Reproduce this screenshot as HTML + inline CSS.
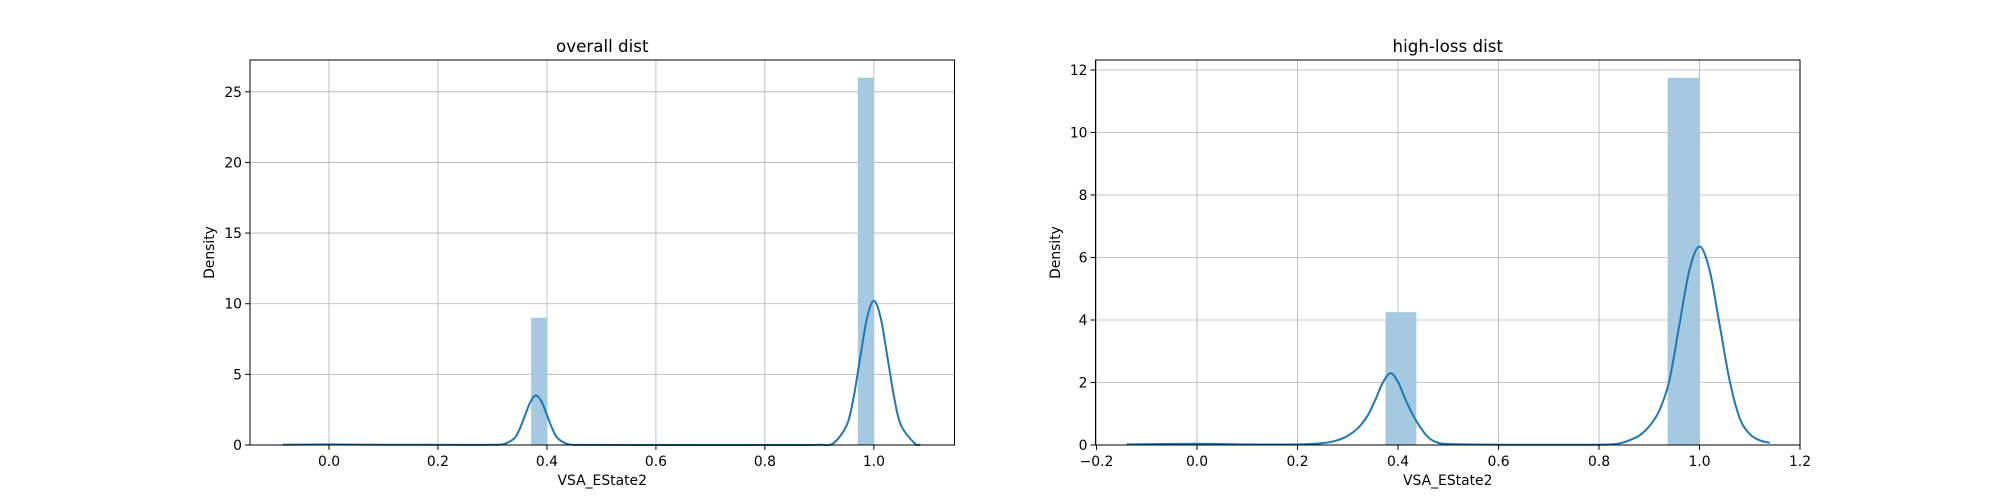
<!DOCTYPE html>
<html><head><meta charset="utf-8"><style>
html,body{margin:0;padding:0;background:#fff;}
svg{display:block;font-family:"DejaVu Sans","Liberation Sans",sans-serif;}
</style></head><body>
<svg id="fig" width="2000" height="500" viewBox="0 0 2000 500" xmlns="http://www.w3.org/2000/svg"></svg>
<script>
// ---- left panel data ----
const leftXTicks = [0.0, 0.2, 0.4, 0.6, 0.8, 1.0];
const leftXTickLabels = ["0.0","0.2","0.4","0.6","0.8","1.0"];
const leftYTicks = [0, 5, 10, 15, 20, 25];
const leftBinStart = [0.371, 0.9705];
const leftBinEnd = [0.4005, 1.0];
const leftBinHeight = [9.0, 26.0];
const leftKdeX = [-0.085,0.0,0.1,0.25,0.3,0.32,0.34,0.35,0.36,0.37,0.38,0.39,0.40,0.41,0.42,0.44,0.47,0.6,0.85,0.9,0.925,0.95,0.9625,0.975,0.9875,1.0,1.0125,1.025,1.0375,1.05,1.075,1.085];
const leftKdeY = [0.02,0.04,0.02,0.01,0.02,0.06,0.47,1.14,2.12,3.08,3.5,3.08,2.12,1.14,0.47,0.05,0.01,0.0,0.0,0.02,0.11,1.38,3.3,6.2,9.0,10.2,9.0,6.2,3.3,1.38,0.11,0.03];
// ---- right panel data ----
const rightXTicks = [-0.2,0.0,0.2,0.4,0.6,0.8,1.0,1.2];
const rightXTickLabels = ["\u22120.2","0.0","0.2","0.4","0.6","0.8","1.0","1.2"];
const rightYTicks = [0,2,4,6,8,10,12];
const rightBinStart = [0.375, 0.9365];
const rightBinEnd = [0.4365, 1.0];
const rightBinHeight = [4.25, 11.75];
const rightKdeX = [-0.14,0.0,0.1,0.2,0.25,0.275,0.295,0.31,0.325,0.34,0.355,0.37,0.385,0.40,0.415,0.43,0.445,0.46,0.475,0.5,0.6,0.8,0.84,0.86,0.88,0.9,0.92,0.94,0.96,0.98,1.0,1.02,1.04,1.06,1.08,1.1,1.12,1.14];
const rightKdeY = [0.02,0.04,0.02,0.02,0.06,0.13,0.25,0.4,0.62,0.95,1.45,2.0,2.3,2.02,1.45,0.95,0.55,0.25,0.1,0.03,0.01,0.01,0.05,0.15,0.3,0.6,1.1,2.06,3.85,5.6,6.35,5.6,3.85,2.06,0.86,0.35,0.15,0.07];

const NS="http://www.w3.org/2000/svg";
const fig=document.getElementById('fig');
function mk(tag,attrs,parent){const e=document.createElementNS(NS,tag);for(const k in attrs)e.setAttribute(k,attrs[k]);(parent||fig).appendChild(e);return e;}
function smoothPath(pts){
  let d='M'+pts[0][0].toFixed(2)+','+pts[0][1].toFixed(2);
  for(let i=0;i<pts.length-1;i++){
    const p0=pts[Math.max(0,i-1)],p1=pts[i],p2=pts[i+1],p3=pts[Math.min(pts.length-1,i+2)];
    const c1x=p1[0]+(p2[0]-p0[0])/6,c1y=p1[1]+(p2[1]-p0[1])/6;
    const c2x=p2[0]-(p3[0]-p1[0])/6,c2y=p2[1]-(p3[1]-p1[1])/6;
    d+=` C${c1x.toFixed(2)},${c1y.toFixed(2)} ${c2x.toFixed(2)},${c2y.toFixed(2)} ${p2[0].toFixed(2)},${p2[1].toFixed(2)}`;
  }
  return d;
}

function panel(cfg){
  const g=mk('g',{});
  
  
  const {L,R,T,B,xmin,xmax,ymin,ymax}=cfg;
  const sx=v=>L+(v-xmin)/(xmax-xmin)*(R-L);
  const sy=v=>B-(v-ymin)/(ymax-ymin)*(B-T);
  cfg.xTicks.forEach(v=>{const l=mk('line',{x1:sx(v),x2:sx(v),y1:T,y2:B,stroke:'#b0b0b0','stroke-width':0.8},g);
    
    });
  cfg.yTicks.forEach(v=>{const l=mk('line',{x1:L,x2:R,y1:sy(v),y2:sy(v),stroke:'#b0b0b0','stroke-width':0.8},g);
    
    });
  cfg.binStart.forEach((s,i)=>{const r=mk('rect',{x:sx(s),y:sy(cfg.binHeight[i]),width:sx(cfg.binEnd[i])-sx(s),height:sy(0)-sy(cfg.binHeight[i]),fill:'#a5c9e1'},g);
    
    });
  const pts=cfg.kdeX.map((x,i)=>[sx(x),sy(cfg.kdeY[i])]);
  const p=mk('path',{d:smoothPath(pts),fill:'none',stroke:'#1f77b4','stroke-width':2,'stroke-linejoin':'round'},g);
  
  
  const f=mk('rect',{x:L,y:T,width:R-L,height:B-T,fill:'none',stroke:'#000','stroke-width':1},g);
  
  
  cfg.xTicks.forEach((v,i)=>{mk('line',{x1:sx(v),x2:sx(v),y1:B,y2:B+4.9,stroke:'#000','stroke-width':1},g);
    const t=mk('text',{x:sx(v),y:B+21,'font-size':13.9,'text-anchor':'middle',fill:'#000'},g);t.textContent=cfg.xLabels[i];
    
    });
  cfg.yTicks.forEach(v=>{mk('line',{x1:L-4.9,x2:L,y1:sy(v),y2:sy(v),stroke:'#000','stroke-width':1},g);
    const t=mk('text',{x:L-8,y:sy(v)+5,'font-size':13.9,'text-anchor':'end',fill:'#000'},g);t.textContent=String(v);
    
    });
  const xl=mk('text',{x:(L+R)/2,y:B+40,'font-size':13.9,'text-anchor':'middle'},g);xl.textContent='VSA_EState2';
  
  
  const yl=mk('text',{x:0,y:0,'font-size':13.9,'text-anchor':'middle',transform:`translate(${cfg.yLabelX},${(T+B)/2}) rotate(-90)`},g);yl.textContent='Density';
  
  
  const tt=mk('text',{x:(L+R)/2,y:T-8,'font-size':16.7,'text-anchor':'middle'},g);tt.textContent=cfg.title;
  
  
}
panel({name:'overall-dist-panel',title:'overall dist',L:250,R:954.5,T:60,B:445,xmin:-0.145,xmax:1.148,ymin:0,ymax:27.25,
  xTicks:leftXTicks,xLabels:leftXTickLabels,yTicks:leftYTicks,binStart:leftBinStart,binEnd:leftBinEnd,binHeight:leftBinHeight,kdeX:leftKdeX,kdeY:leftKdeY,yLabelX:214});
panel({name:'high-loss-dist-panel',title:'high-loss dist',L:1095.5,R:1800,T:60,B:445,xmin:-0.202,xmax:1.2,ymin:0,ymax:12.32,
  xTicks:rightXTicks,xLabels:rightXTickLabels,yTicks:rightYTicks,binStart:rightBinStart,binEnd:rightBinEnd,binHeight:rightBinHeight,kdeX:rightKdeX,kdeY:rightKdeY,yLabelX:1060});
</script>
</body></html>
